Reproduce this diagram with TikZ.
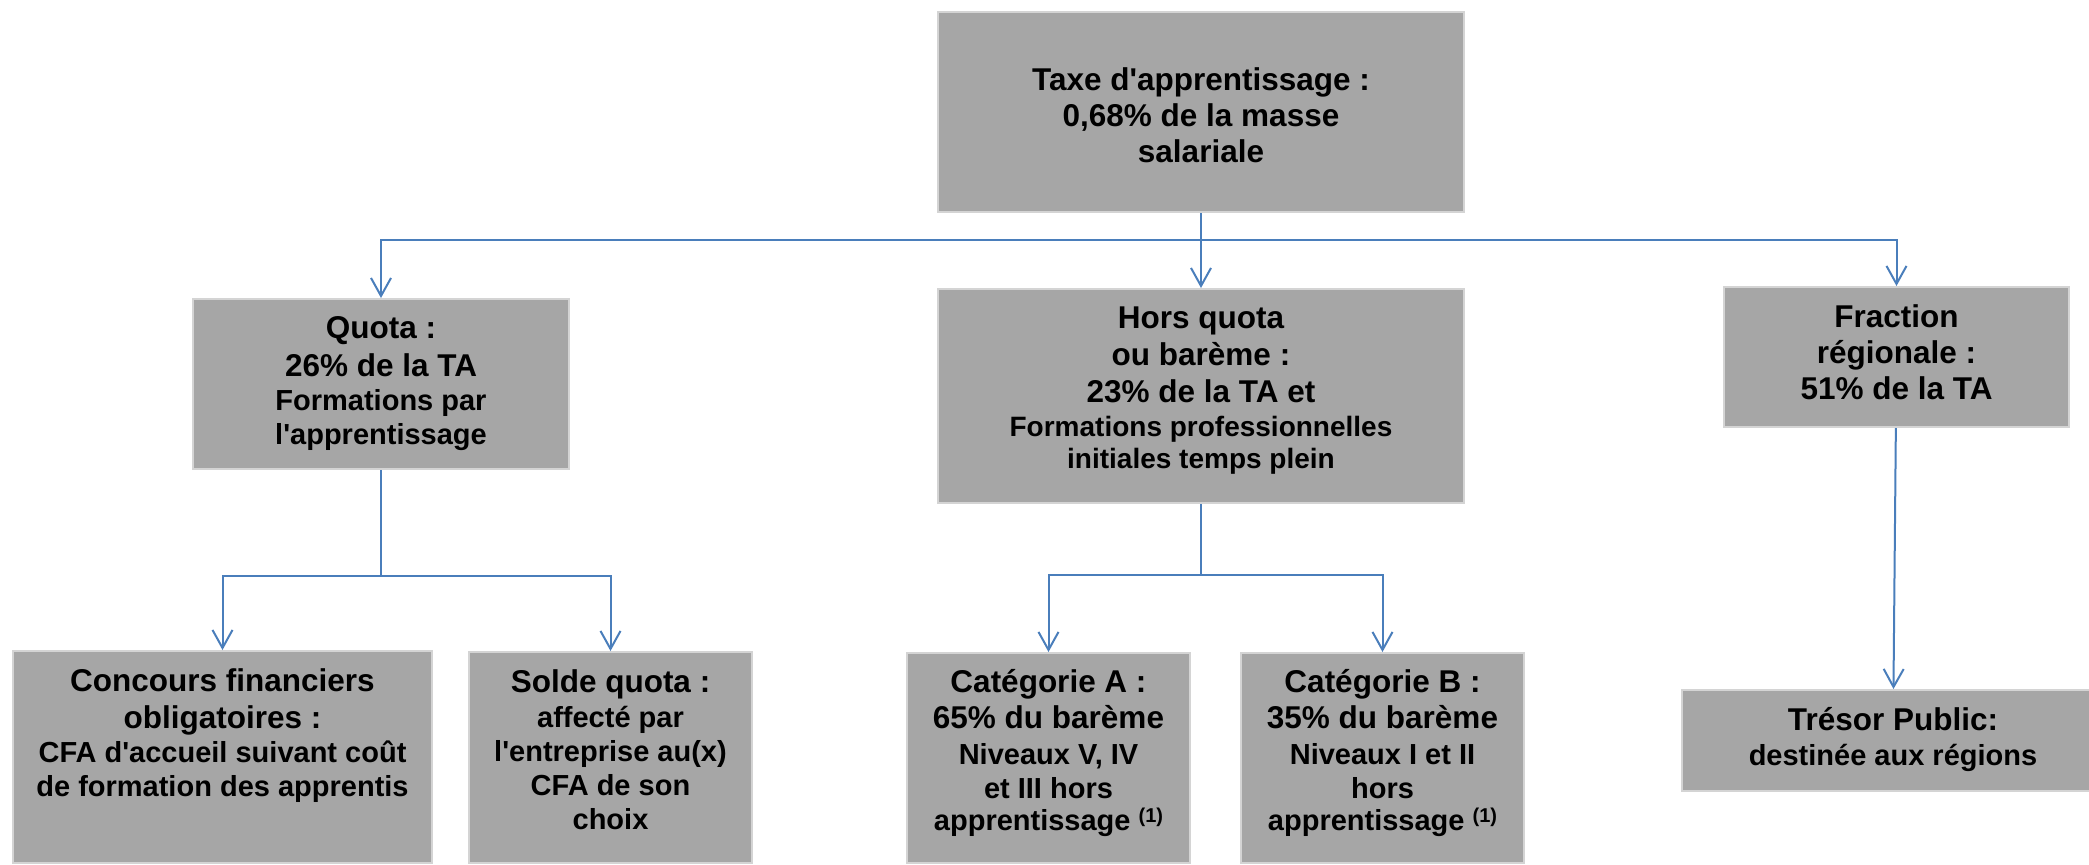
\documentclass[tikz,border=0pt]{standalone}
\usepackage{fontspec}
\setmainfont{Liberation Sans}
\usetikzlibrary{arrows.meta,positioning}
\definecolor{boxgray}{RGB}{166,166,166}
\definecolor{boxedge}{RGB}{212,212,212}
\definecolor{linkblue}{RGB}{74,126,187}
\newcommand{\txtbig}{\fontsize{15.75}{17}\selectfont}
\newcommand{\txtsmall}{\fontsize{14.5}{17}\selectfont}
\newcommand{\txtsmaller}{\fontsize{14}{17}\selectfont}
\newcommand{\txtnote}{\raisebox{4pt}{\fontsize{10}{10}\selectfont(1)}}
\newcommand{\apos}{\textquotesingle}

\begin{document}
\begin{tikzpicture}[x=0.5pt, y=-0.5pt,
    box/.style={rectangle, fill=boxgray, draw=boxedge, line width=1pt, inner sep=0pt},
    boxtext/.style={align=center, anchor=north, inner sep=0pt, font=\bfseries\txtbig},
    flow/.style={draw=linkblue, line width=1pt, -{Straight Barb[length=9pt, width=10pt]}},
    link/.style={draw=linkblue, line width=1pt}]
    \useasboundingbox (0,0) rectangle (2089,864);
    \clip (0,0) rectangle (2089,864);

    % Boxes
    \node[box, minimum width=263pt, minimum height=100pt] (taxe) at (1201,112) {};
    \node[box, minimum width=188pt, minimum height=85pt] (quota) at (381,384) {};
    \node[box, minimum width=263pt, minimum height=107pt] (hors) at (1201,396) {};
    \node[box, minimum width=172.5pt, minimum height=70pt] (frac) at (1896.5,357) {};
    \node[box, minimum width=209.5pt, minimum height=106pt] (conc) at (222.5,757) {};
    \node[box, minimum width=141.5pt, minimum height=105.5pt] (solde) at (610.5,757.5) {};
    \node[box, minimum width=141.5pt, minimum height=105pt] (catA) at (1048.5,758) {};
    \node[box, minimum width=141.5pt, minimum height=105pt] (catB) at (1382.5,758) {};
    \node[box, minimum width=211pt, minimum height=50.5pt] (tresor) at (1893,740.5) {};

    % Texts
    \node[boxtext] (taxeT) at (1201,62) {\rule{0pt}{14pt}Taxe d\apos apprentissage :\\[1pt] 0,68\% de la masse\\[1pt] salariale};
    \node[boxtext] (quotaT) at (381,310) {\rule{0pt}{14pt}Quota :\\[2pt] 26\% de la TA\\ \txtsmall Formations par\\ \txtsmall l\apos apprentissage};
    \node[boxtext] (horsT) at (1201,300) {\rule{0pt}{14pt}Hors quota\\[1.5pt] ou barème :\\[1.5pt] 23\% de la TA et\\ \txtsmaller Formations professionnelles\\[-1pt] \txtsmaller initiales temps plein};
    \node[boxtext] (fracT) at (1896.5,299) {\rule{0pt}{14pt}Fraction\\[1pt] régionale :\\[1pt] 51\% de la TA};
    \node[boxtext] (concT) at (222.5,663) {\rule{0pt}{14pt}Concours financiers\\[1.5pt] obligatoires :\\ \txtsmall CFA d\apos accueil suivant coût\\ \txtsmall de formation des apprentis};
    \node[boxtext] (soldeT) at (610.5,664) {\rule{0pt}{14pt}Solde quota :\\[0.5pt] \txtsmall affecté par\\ \txtsmall l\apos entreprise au(x)\\ \txtsmall CFA de son\\ \txtsmall choix};
    \node[boxtext] (catAT) at (1048.5,664) {\rule{0pt}{14pt}Catégorie A :\\[1pt] 65\% du barème\\[1pt] \txtsmall Niveaux V, IV\\ \txtsmall et III hors\\[-1pt] \txtsmall apprentissage \txtnote};
    \node[boxtext] (catBT) at (1382.5,664) {\rule{0pt}{14pt}Catégorie B :\\[1pt] 35\% du barème\\[1pt] \txtsmall Niveaux I et II\\ \txtsmall hors\\[-1pt] \txtsmall apprentissage \txtnote};
    \node[boxtext] (tresorT) at (1893,702) {\rule{0pt}{14pt}Trésor Public:\\[0.5pt] \txtsmall destinée aux régions};

    % Connectors
    \coordinate (topsplit) at (1201,240);
    \coordinate (quotasplit) at (381,576);
    \coordinate (horssplit) at (1201,575);
    \draw[flow] (taxe) -- (hors);
    \draw[flow] (topsplit) -| (quota);
    \draw[flow] (topsplit) -| (frac);
    \draw[link] (quota) -- (quotasplit);
    \draw[flow] (quotasplit) -| (conc);
    \draw[flow] (quotasplit) -| (solde);
    \draw[link] (hors) -- (horssplit);
    \draw[flow] (horssplit) -| (catA);
    \draw[flow] (horssplit) -| (catB);
    \draw[flow] (frac) -- (tresor);
\end{tikzpicture}
\end{document}
